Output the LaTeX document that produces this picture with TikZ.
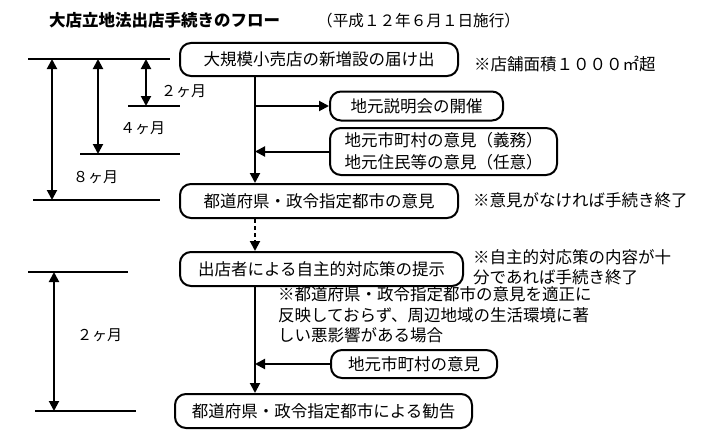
\documentclass[tikz,border=0pt]{standalone}
\usepackage{fontspec}
\setmainfont{Noto Sans CJK JP}
\usepackage{tikz}
\usetikzlibrary{arrows.meta,calc,positioning}

\tikzset{
  kasten/.style={draw,line width=2pt,rounded corners=11pt,inner sep=0pt,align=center,font=\fontsize{16.5}{22}\selectfont},
  hinweis/.style={anchor=west,inner sep=0pt,align=left,font=\fontsize{16.5}{20.5}\selectfont},
  pfeil/.style={line width=2pt,-{Triangle[length=10pt,width=10pt]}},
  masspfeil/.style={line width=2pt,{Triangle[length=10pt,width=10pt]}-{Triangle[length=10pt,width=10pt]}},
  linie/.style={line width=2pt},
  dauer/.style={inner sep=0pt,font=\fontsize{15}{18}\selectfont}
}

\begin{document}
\begin{tikzpicture}[x=1pt,y=-1pt]
\useasboundingbox (0,0) rectangle (706,444);
% Ueberschrift
\node[anchor=west,inner sep=0pt,font=\fontsize{16.5}{20}\selectfont\bfseries] (titel) at (49,20) {大店立地法出店手続きのフロー};
\node[anchor=west,inner sep=0pt,font=\fontsize{15.6}{20}\selectfont] (datum) at (317,21) {（平成１２年６月１日施行）};
% Ablauf
\coordinate (achse) at (255,0);
\node[kasten,minimum width=278pt,minimum height=33pt] (anzeige) at (319,59.5) {大規模小売店の新増設の届け出};
\node[hinweis] (flaeche) at (474,64) {※店舗面積１０００㎡超};
\node[kasten,minimum width=173pt,minimum height=29pt] (setsumei) at (416.5,106) {地元説明会の開催};
\node[kasten,minimum width=227pt,minimum height=47pt] (iken) at (443.5,151.5) {地元市町村の意見（義務）\\地元住民等の意見（任意）};
\node[kasten,minimum width=278pt,minimum height=34pt] (kenIken) at (319,201) {都道府県・政令指定都市の意見};
\node[hinweis] (ende1) at (473,200) {※意見がなければ手続き終了};
\node[hinweis,font=\fontsize{16.5}{20}\selectfont] (ende2) at (473,267.5) {※自主的対応策の内容が十\\分であれば手続き終了};
\node[kasten,minimum width=283pt,minimum height=34pt] (taiosaku) at (321.5,269) {出店者による自主的対応策の提示};
\node[hinweis] (bedingung) at (278,315) {※都道府県・政令指定都市の意見を適正に\\反映しておらず、周辺地域の生活環境に著\\しい悪影響がある場合};
\node[kasten,minimum width=166pt,minimum height=28pt] (shichoson) at (414,364) {地元市町村の意見};
\node[kasten,minimum width=297pt,minimum height=34pt] (kankoku) at (323.5,411) {都道府県・政令指定都市による勧告};

\draw[pfeil] (anzeige.south -| achse) -- (kenIken.north -| achse);
\draw[pfeil] (setsumei.west -| achse) -- (setsumei.west);
\draw[pfeil] (iken.west) -- (iken.west -| achse);
\draw[pfeil,dashed,dash pattern=on 4pt off 3pt] (kenIken.south -| achse) -- (taiosaku.north -| achse);
\draw[pfeil] (taiosaku.south -| achse) -- (kankoku.north -| achse);
\draw[pfeil] (shichoson.west) -- (shichoson.west -| achse);

% Fristen links
\coordinate (o1) at (28,59);   \coordinate (o2) at (170,59);
\coordinate (a1) at (128,106); \coordinate (a2) at (180,106);
\coordinate (b1) at (80,154);  \coordinate (b2) at (180,154);
\coordinate (c1) at (33,200);  \coordinate (c2) at (160,200);
\coordinate (d1) at (28,272);  \coordinate (d2) at (128,272);
\coordinate (e1) at (35,411);  \coordinate (e2) at (136,411);
\foreach \p in {o,a,b,c,d,e}{
  \draw[linie] (\p1) -- (\p2);
}
\draw[masspfeil] (146,59) -- (a1 -| 146,0);
\draw[masspfeil] (98,59) -- (b1 -| 98,0);
\draw[masspfeil] (52,59) -- (c1 -| 52,0);
\draw[masspfeil] (54,272) -- (e1 -| 54,0);
\node[dauer,anchor=west] (zwei) at (161,91) {２ヶ月};
\node[dauer,anchor=west] (vier) at (120,128) {４ヶ月};
\node[dauer,anchor=west] (acht) at (73,177) {８ヶ月};
\node[dauer,anchor=west] (zwei2) at (77,335) {２ヶ月};
\end{tikzpicture}
\end{document}
